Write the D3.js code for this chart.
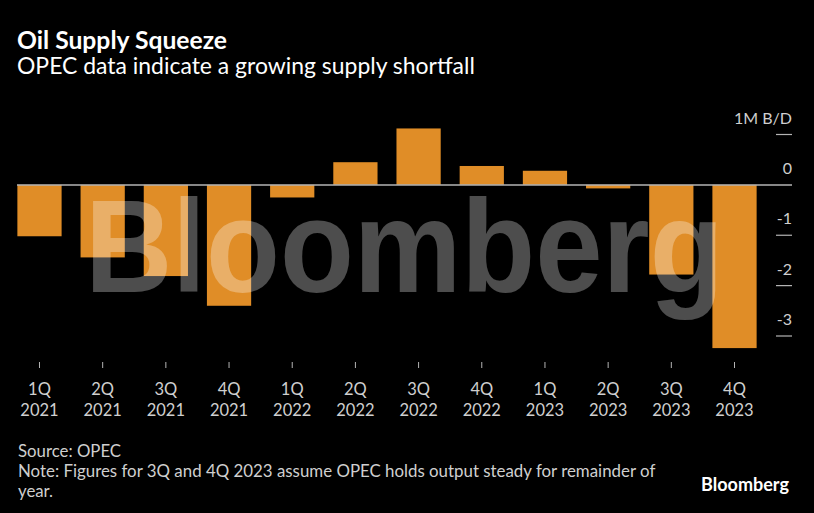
<!DOCTYPE html>
<html><head><meta charset="utf-8">
<script src="https://cdn.jsdelivr.net/npm/d3@7"></script>
<style>
html,body{margin:0;padding:0;background:#000;}
svg{display:block;}
text{font-family:"Lato","Noto Sans",sans-serif;}
</style></head>
<body><svg id="chart" width="814" height="513"></svg>
<script>
const quarters = ["1Q","2Q","3Q","4Q","1Q","2Q","3Q","4Q","1Q","2Q","3Q","4Q"];
const years = ["2021","2021","2021","2021","2022","2022","2022","2022","2023","2023","2023","2023"];
const values = [-1.02, -1.44, -1.81, -2.40, -0.25, 0.45, 1.12, 0.375, 0.28, -0.07, -1.78, -3.24];
const yTicks = [1, 0, -1, -2, -3];
const yTickLabels = ["1M B/D", "0", "-1", "-2", "-3"];

const W = 814, H = 513;
const svg = d3.select("#chart");
svg.append("rect").attr("width", W).attr("height", H).attr("fill", "#000");

// fit a text's font size so its width matches a target width
function fit(sel, target) {
  const fs = +sel.attr("font-size");
  const w = sel.node().getComputedTextLength();
  if (w > 0) sel.attr("font-size", (fs * target / w).toFixed(2));
  return sel;
}

const ids = d3.range(values.length);
const x = d3.scaleBand().domain(ids).range([7.9, 766.1]).paddingInner(0.3).paddingOuter(0.15);
const y = d3.scaleLinear().domain([-3, 1]).range([336, 134.5]);

// title
fit(svg.append("text").attr("x", 17).attr("y", 48.5).attr("fill", "#fff")
  .attr("font-size", 21).attr("font-weight", 700).text("Oil Supply Squeeze"), 210);
fit(svg.append("text").attr("x", 17).attr("y", 74).attr("fill", "#fff")
  .attr("font-size", 20.5).text("OPEC data indicate a growing supply shortfall"), 458);

// bars
svg.append("g").selectAll("rect").data(values).join("rect")
  .attr("x", (d, i) => x(i))
  .attr("width", x.bandwidth())
  .attr("y", d => y(Math.max(0, d)))
  .attr("height", d => Math.abs(y(d) - y(0)))
  .attr("fill", "#e08d27");

// zero line
svg.append("line").attr("x1", 17).attr("x2", 792).attr("y1", y(0)).attr("y2", y(0))
  .attr("stroke", "#b4b4b4").attr("stroke-width", 1.5);

// y axis (right)
const yg = svg.append("g");
yTicks.forEach((t, i) => {
  if (t !== 0) {
    yg.append("line").attr("x1", 776).attr("x2", 792).attr("y1", y(t)).attr("y2", y(t))
      .attr("stroke", "#b4b4b4").attr("stroke-width", 1.2);
  }
  yg.append("text").attr("x", 792).attr("y", y(t) - 11).attr("text-anchor", "end")
    .attr("fill", "#cfcfcf").attr("font-size", 16).text(yTickLabels[i]);
});

// x axis
const xg = svg.append("g");
ids.forEach(i => {
  const cx = x(i) + x.bandwidth() / 2;
  xg.append("line").attr("x1", cx).attr("x2", cx).attr("y1", 362).attr("y2", 368)
    .attr("stroke", "#b4b4b4").attr("stroke-width", 1);
  xg.append("text").attr("x", cx).attr("y", 395).attr("text-anchor", "middle")
    .attr("fill", "#cfcfcf").attr("font-size", 16.5).text(quarters[i]);
  xg.append("text").attr("x", cx).attr("y", 416).attr("text-anchor", "middle")
    .attr("fill", "#cfcfcf").attr("font-size", 16.5).text(years[i]);
});

// watermark
svg.append("text")
  .attr("transform", "translate(85,292) scale(1,1.09)")
  .attr("fill", "#fff").attr("fill-opacity", 0.3)
  .attr("font-size", 121).attr("font-weight", 700)
  .style("font-family", "'Liberation Sans', Arial, sans-serif")
  .text("Bloomberg");

// footer
const foot = svg.append("g").attr("fill", "#cfcfcf").attr("font-size", 16.8);
foot.append("text").attr("x", 18).attr("y", 457).text("Source: OPEC");
fit(foot.append("text").attr("x", 18).attr("y", 477).attr("font-size", 16.8)
  .text("Note: Figures for 3Q and 4Q 2023 assume OPEC holds output steady for remainder of"), 637);
foot.append("text").attr("x", 18).attr("y", 497).text("year.");
fit(svg.append("text").attr("x", 701).attr("y", 491)
  .attr("fill", "#fff").attr("font-size", 18).attr("font-weight", 700).text("Bloomberg"), 88);
</script></body></html>
